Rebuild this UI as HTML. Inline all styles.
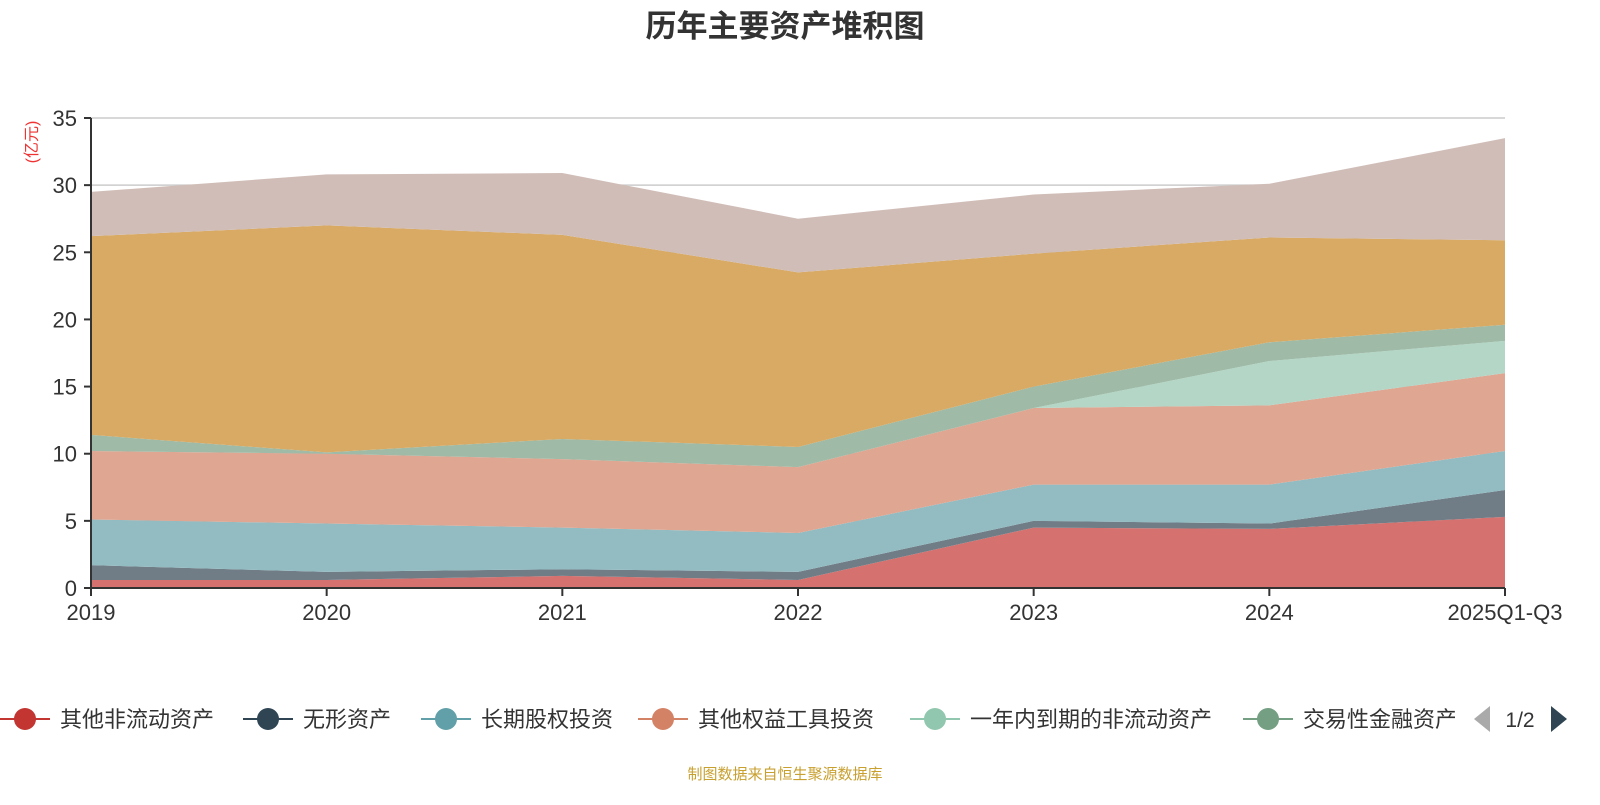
<!DOCTYPE html>
<html><head><meta charset="utf-8"><style>
body{margin:0;width:1600px;height:800px;background:#fff;overflow:hidden;font-family:"Liberation Sans","Noto Sans CJK SC",sans-serif}
</style></head><body>
<svg id="c" width="1600" height="800" xmlns="http://www.w3.org/2000/svg">
<text x="785" y="37" text-anchor="middle" font-size="31" font-weight="bold" fill="#333" font-family="Liberation Sans,Noto Sans CJK SC,sans-serif">历年主要资产堆积图</text>
<text transform="translate(37,142) rotate(-90)" text-anchor="middle" font-size="16" fill="#e33" font-family="Liberation Sans,Noto Sans CJK SC,sans-serif">(亿元)</text>
<g id="grid"></g><g id="areas"></g><g id="axes"></g><g id="legend"></g>
<text x="785" y="779" text-anchor="middle" font-size="15" fill="#c8a030" font-family="Liberation Sans,Noto Sans CJK SC,sans-serif">制图数据来自恒生聚源数据库</text>
</svg>
<script>
const categories=["2019","2020","2021","2022","2023","2024","2025Q1-Q3"];
const seriesNames=["其他非流动资产","无形资产","长期股权投资","其他权益工具投资","一年内到期的非流动资产","交易性金融资产","货币资金","其他"];
const s1=[0.6,0.6,0.9,0.6,4.5,4.4,5.3];
const s2=[1.1,0.6,0.5,0.6,0.5,0.4,2.0];
const s3=[3.4,3.6,3.1,2.9,2.7,2.9,2.9];
const s4=[5.1,5.2,5.1,4.9,5.7,5.9,5.8];
const s5=[0,0,0,0,0,3.3,2.4];
const s6=[1.2,0.1,1.5,1.5,1.6,1.4,1.2];
const s7=[14.8,16.9,15.2,13.0,9.9,7.8,6.3];
const s8=[3.3,3.8,4.6,4.0,4.4,4.0,7.6];
const yTicks=[0,5,10,15,20,25,30,35];
const series=[s1,s2,s3,s4,s5,s6,s7,s8];
const fills=["#d4706d","#6e7b86","#91bbc1","#dfa591","#b2d6c5","#9eb9a5","#d8a962","#cfbcb6"];
const legendColors=["#c23531","#2f4554","#61a0a8","#d48265","#91c7ae","#749f83"];
const NS="http://www.w3.org/2000/svg";
const X0=91,X1=1505,Y0=588,Y1=118;
const xs=i=>X0+(X1-X0)*i/(categories.length-1);
const ys=v=>Y0-(Y0-Y1)*v/35;
function mk(t,a,p){const e=document.createElementNS(NS,t);for(const k in a)e.setAttribute(k,a[k]);p.appendChild(e);return e;}
const grid=document.getElementById('grid'),areas=document.getElementById('areas'),axes=document.getElementById('axes'),legend=document.getElementById('legend');
yTicks.forEach(v=>{
 const l=mk('line',{x1:X0,x2:X1,y1:ys(v),y2:ys(v),stroke:'#ccc','stroke-width':1.5},grid);
 
 
 const t=mk('text',{x:X0-14,y:ys(v)+8,'text-anchor':'end','font-size':22,fill:'#333'},axes);
 t.textContent=v;
 
 
 mk('line',{x1:X0-7,x2:X0,y1:ys(v),y2:ys(v),stroke:'#333','stroke-width':2},axes);
});
let base=categories.map(()=>0);
series.forEach((s,k)=>{
 const top=base.map((b,i)=>b+s[i]);
 let d='M'+top.map((v,i)=>xs(i)+','+ys(v)).join(' L');
 for(let i=categories.length-1;i>=0;i--)d+=' L'+xs(i)+','+ys(base[i]);
 const p=mk('path',{d:d+'Z',fill:fills[k],opacity:0.99},areas);
 
 
 base=top;
});
mk('line',{x1:X0,x2:X0,y1:Y1,y2:Y0,stroke:'#333','stroke-width':2},axes);
mk('line',{x1:X0,x2:X1,y1:Y0,y2:Y0,stroke:'#333','stroke-width':2},axes);
categories.forEach((c,i)=>{
 mk('line',{x1:xs(i),x2:xs(i),y1:Y0,y2:Y0+8,stroke:'#333','stroke-width':2},axes);
 const t=mk('text',{x:xs(i),y:620,'text-anchor':'middle','font-size':22,fill:'#333'},axes);
 t.textContent=c;
 
 
});
const lx=[25,268,446,663,935,1268];
legendColors.forEach((col,k)=>{
 const g=mk('g',{},legend);
 
 
 mk('line',{x1:lx[k]-25,x2:lx[k]+25,y1:719,y2:719,stroke:col,'stroke-width':2},g);
 mk('circle',{cx:lx[k],cy:719,r:11,fill:col},g);
 const t=mk('text',{x:lx[k]+35,y:727,'font-size':22,fill:'#333'},g);
 t.textContent=seriesNames[k];
});
const cp=mk('rect',{x:1455,y:695,width:145,height:50,fill:'#fff'},legend);
const pl=mk('path',{d:'M1490,706 L1474,719 L1490,732Z',fill:'#aaa'},legend);


const pt=mk('text',{x:1520,y:727,'text-anchor':'middle','font-size':21,fill:'#333'},legend);
pt.textContent='1/2';


const pn=mk('path',{d:'M1551,706 L1567,719 L1551,732Z',fill:'#2f4554'},legend);


</script>
</body></html>
